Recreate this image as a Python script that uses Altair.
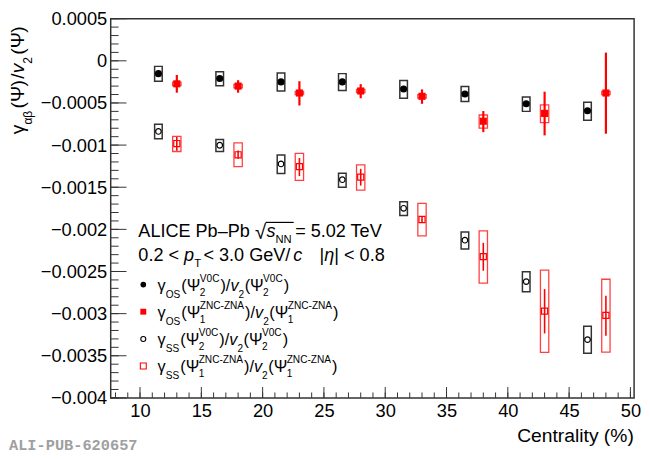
import altair as alt
import pandas as pd
import numpy as np

# ---------------- data ----------------
x_v0c = [11.5, 16.5, 21.5, 26.5, 31.5, 36.5, 41.5, 46.5]
x_zdc = [13, 18, 23, 28, 33, 38, 43, 48]

os_v0c = [-0.000152, -0.00021, -0.00025, -0.00025, -0.000335, -0.000394, -0.00051, -0.000592]
os_v0c_sys_lo = [-0.000242, -0.000296, -0.000358, -0.000351, -0.000444, -0.000483, -0.0006, -0.000705]
os_v0c_sys_hi = [-0.000066, -0.000129, -0.000144, -0.000152, -0.000234, -0.000304, -0.000429, -0.000491]

os_zdc = [-0.000273, -0.0003, -0.000382, -0.000358, -0.000421, -0.000717, -0.000624, -0.000382]
os_zdc_err_lo = [-0.000378, -0.000378, -0.00053, -0.000444, -0.00051, -0.000846, -0.000885, -0.000865]
os_zdc_err_hi = [-0.000168, -0.00023, -0.000242, -0.000277, -0.000339, -0.000596, -0.000366, 0.0000974]
os_zdc_sys_lo = [-0.000293, -0.00032, -0.000402, -0.000378, -0.000441, -0.000799, -0.000733, -0.000402]
os_zdc_sys_hi = [-0.000253, -0.00028, -0.000362, -0.000338, -0.000401, -0.000643, -0.000522, -0.000362]

ss_v0c = [-0.000838, -0.001002, -0.001224, -0.001411, -0.00175, -0.002129, -0.00262, -0.003309]
ss_v0c_sys_lo = [-0.000924, -0.001076, -0.001337, -0.0015, -0.001836, -0.002234, -0.00274, -0.00347]
ss_v0c_sys_hi = [-0.000752, -0.000935, -0.001118, -0.001333, -0.001672, -0.002031, -0.002503, -0.00315]

ss_zdc = [-0.000982, -0.001115, -0.001255, -0.00138, -0.001883, -0.002323, -0.00297, -0.003021]
ss_zdc_err_lo = [-0.001068, -0.001161, -0.001368, -0.001481, -0.00192, -0.002491, -0.003235, -0.003263]
ss_zdc_err_hi = [-0.000904, -0.001064, -0.001153, -0.001282, -0.001846, -0.00216, -0.002709, -0.002787]
ss_zdc_sys_lo = [-0.001076, -0.001255, -0.001419, -0.001535, -0.002078, -0.002639, -0.003461, -0.003457]
ss_zdc_sys_hi = [-0.000896, -0.000974, -0.001099, -0.001235, -0.001692, -0.002019, -0.002483, -0.002592]

x_major = [10, 15, 20, 25, 30, 35, 40, 45, 50]
y_major = [0.0005, 0, -0.0005, -0.001, -0.0015, -0.002, -0.0025, -0.003, -0.0035, -0.004]

# ---------------- layout ----------------
W, H = 530, 384
PL, PT = 104, 8
X0, X1 = 7.608, 50.30
Y0, Y1 = -0.004, 0.0005
OX, OY = PL + 8, PT + 8
FONT = "Liberation Sans"


def dx(px):
    return X0 + (px - OX) * (X1 - X0) / W


def dy(py):
    return Y1 - (py - OY) * (Y1 - Y0) / H


sx = alt.Scale(domain=[X0, X1], nice=False, zero=False)
sy = alt.Scale(domain=[Y0, Y1], nice=False, zero=False)
ax_x = alt.Axis(values=x_major, title=None, ticks=False, tickSize=0, domain=False, grid=False,
                labelFont=FONT, labelFontSize=18.5, labelColor="black", labelPadding=4, format="d")
ax_y = alt.Axis(values=y_major, title=None, ticks=False, tickSize=0, domain=False, grid=False,
                labelFont=FONT, labelFontSize=18.5, labelColor="black", labelPadding=4, format=".4~f")


def X(f):
    return alt.X(f, type="quantitative", scale=sx, axis=ax_x)


def Y(f):
    return alt.Y(f, type="quantitative", scale=sy, axis=ax_y)


# ---------------- rich text helper ----------------
CW = {' ': 0.278, '(': 0.333, ')': 0.333, '/': 0.278, '-': 0.333, '.': 0.278, '<': 0.584, '=': 0.584,
      '|': 0.26, '–': 0.556, '√': 0.549, '%': 0.889,
      'A': 0.667, 'B': 0.667, 'C': 0.722, 'E': 0.667, 'G': 0.778, 'I': 0.278, 'L': 0.556, 'N': 0.722,
      'O': 0.778, 'P': 0.667, 'S': 0.667, 'T': 0.611, 'V': 0.667, 'Z': 0.611,
      'b': 0.556, 'c': 0.5, 'e': 0.556, 'p': 0.556, 's': 0.5, 'v': 0.5,
      'γ': 0.5, 'Ψ': 0.8, 'α': 0.578, 'β': 0.569, 'η': 0.556}


def tw(s, size):
    return sum(CW.get(c, 0.556) for c in s) * size


rows = []


def place(txt, px, py, size, it, rot):
    rows.append(dict(x=dx(px), y=dy(py), t=txt, s=size, it=it, rot=rot))


def rich(segs, x, y, size, rot=False, small=0.62, subdy=0.42, supdy=-0.58, pairdy=0.3):
    pen = 0.0
    for seg in segs:
        k = seg[0]
        if k == 'gap':
            pen += seg[1]
            continue
        if k == 'ss':
            sub, sup = seg[1], seg[2]
            fs = size * small
            for txt, off in ((sub, pairdy * size), (sup, supdy * size)):
                if rot:
                    place(txt, x + off, y - pen, fs, False, True)
                else:
                    place(txt, x + pen, y + off, fs, False, False)
            pen += max(tw(sub, fs), tw(sup, fs)) + 1
            continue
        txt = seg[1]
        it = len(seg) > 2 and seg[2]
        if k == 'n':
            fs, off = size, 0.0
        elif k == 'sub':
            fs, off = size * small, subdy * size
        elif k == 'big':
            fs, off = size * 1.12, 0.1 * size
        else:  # sup
            fs, off = size * small, supdy * size
        if rot:
            place(txt, x + off, y - pen, fs, it, True)
        else:
            place(txt, x + pen, y + off, fs, it, False)
        pen += tw(txt, fs)
    return pen


# y-axis title (rotated)
rich([('n', 'γ'), ('sub', 'αβ'), ('gap', 2.5), ('n', '('), ('n', 'Ψ'), ('n', ')'), ('gap', 1.5), ('n', '/'),
      ('n', 'v', True), ('sub', '2'), ('gap', 2.5), ('n', '('), ('n', 'Ψ'), ('n', ')')],
     24.5, 133, 19.5, rot=True, subdy=0.38)

# header lines
hx = 140
HF = 18.3
p1 = rich([('n', 'ALICE Pb–Pb '), ('big', '√')], hx, 237.3, HF)
p2 = rich([('gap', 0.5), ('n', 's', True), ('sub', 'NN'), ('gap', 3.5), ('n', ' = 5.02 TeV')],
          hx + p1, 237.3, HF, subdy=0.3)
bar_x0, bar_x1 = hx + p1 - 0.5, hx + p1 + 0.5 + tw('s', HF) + tw('NN', HF * 0.62) + 2
rich([('n', '0.2 < '), ('n', 'p', True), ('sub', 'T'), ('gap', 2.5), ('n', ' < 3.0 GeV/'), ('gap', -2.2),
      ('n', 'c', True)], hx, 261.5, HF, subdy=0.32)
rich([('n', '|'), ('n', 'η', True), ('n', '| < 0.8')], 323.5, 261.5, HF)

# legend entries
leg_y = [285.3, 312.7, 340.3, 367.7]
leg_x_marker = 145
leg_x_text = 159.5
LF = 16.5
sups = [('2', 'V0C'), ('1', 'ZNC-ZNA'), ('2', 'V0C'), ('1', 'ZNC-ZNA')]
subs = ['OS', 'OS', 'SS', 'SS']
for ly, (a, b), sb in zip(leg_y, sups, subs):
    rich([('n', 'γ'), ('sub', sb), ('gap', 1), ('n', '('), ('n', 'Ψ'), ('ss', a, b), ('n', ')'), ('n', '/'),
          ('n', 'v', True), ('sub', '2'), ('gap', 0.5), ('n', '('), ('n', 'Ψ'), ('ss', a, b), ('n', ')')],
         leg_x_text, ly + 6.5, LF)

txt = pd.DataFrame(rows)


def text_layer(d, italic, angle=0):
    return alt.Chart(d).mark_text(align='left', baseline='alphabetic', font=FONT,
                                  fontStyle='italic' if italic else 'normal', angle=angle,
                                  color='black').encode(
        x=X('x'), y=Y('y'), text='t:N', size=alt.Size('s:Q', scale=None, legend=None))


layers = []

# ---------------- axis ticks (inside) ----------------
xminor = pd.DataFrame({'x': np.arange(8, 51, 1.0)})
xmaj = pd.DataFrame({'x': x_major})
yminor = pd.DataFrame({'y': np.round(np.arange(-0.004, 0.00051, 0.0001), 6)})
ymaj = pd.DataFrame({'y': y_major})
TC = '#333333'
layers.append(alt.Chart(xminor).mark_rule(color=TC, strokeWidth=1).encode(
    x=X('x'), y=alt.value(H), y2=alt.value(H - 5.5)))
layers.append(alt.Chart(xmaj).mark_rule(color=TC, strokeWidth=1).encode(
    x=X('x'), y=alt.value(H), y2=alt.value(H - 11)))
layers.append(alt.Chart(yminor).mark_rule(color=TC, strokeWidth=1).encode(
    y=Y('y'), x=alt.value(0), x2=alt.value(8)))
layers.append(alt.Chart(ymaj).mark_rule(color=TC, strokeWidth=1).encode(
    y=Y('y'), x=alt.value(0), x2=alt.value(16)))

# ---------------- data frames ----------------
d_osv = pd.DataFrame(dict(x=x_v0c, y=os_v0c, slo=os_v0c_sys_lo, shi=os_v0c_sys_hi))
d_osz = pd.DataFrame(dict(x=x_zdc, y=os_zdc, elo=os_zdc_err_lo, ehi=os_zdc_err_hi,
                          slo=os_zdc_sys_lo, shi=os_zdc_sys_hi))
d_ssv = pd.DataFrame(dict(x=x_v0c, y=ss_v0c, slo=ss_v0c_sys_lo, shi=ss_v0c_sys_hi))
d_ssz = pd.DataFrame(dict(x=x_zdc, y=ss_zdc, elo=ss_zdc_err_lo, ehi=ss_zdc_err_hi,
                          slo=ss_zdc_sys_lo, shi=ss_zdc_sys_hi))


def boxes(d, half, color, width, opacity=1.0):
    return alt.Chart(d).transform_calculate(
        xa=f'datum.x - {half}', xb=f'datum.x + {half}').mark_rect(
        filled=False, stroke=color, strokeWidth=width, strokeOpacity=opacity).encode(
        x=X('xa'), x2='xb:Q', y=Y('slo'), y2='shi:Q')


layers.append(boxes(d_osv, 0.31, '#333333', 1.5))
layers.append(boxes(d_ssv, 0.31, '#333333', 1.5))
layers.append(boxes(d_osz, 0.34, '#ff0000', 1.3, 0.75))
layers.append(boxes(d_ssz, 0.34, '#ff0000', 1.3, 0.75))

layers.append(alt.Chart(d_osz).mark_rule(color='#ff0000', strokeWidth=2.2).encode(
    x=X('x'), y=Y('elo'), y2='ehi:Q'))
layers.append(alt.Chart(d_ssz).mark_rule(color='#ff0000', strokeWidth=1.6).encode(
    x=X('x'), y=Y('elo'), y2='ehi:Q'))

layers.append(alt.Chart(d_osv).mark_circle(size=52, color='black', opacity=1).encode(x=X('x'), y=Y('y')))
layers.append(alt.Chart(d_osz).mark_square(size=52, color='#ff0000', opacity=1).encode(x=X('x'), y=Y('y')))
layers.append(alt.Chart(d_ssv).mark_point(shape='circle', size=32, filled=False, color='black',
                                          strokeWidth=1.2, opacity=1).encode(x=X('x'), y=Y('y')))
layers.append(alt.Chart(d_ssz).mark_point(shape='square', size=38, filled=False, color='#ff0000',
                                          strokeWidth=1.2, opacity=1).encode(x=X('x'), y=Y('y')))

# legend symbols
lm = [pd.DataFrame(dict(x=[dx(leg_x_marker)], y=[dy(v)])) for v in leg_y]
layers.append(alt.Chart(lm[0]).mark_circle(size=32, color='black', opacity=1).encode(x=X('x'), y=Y('y')))
layers.append(alt.Chart(lm[1]).mark_square(size=36, color='#ff0000', opacity=1).encode(x=X('x'), y=Y('y')))
layers.append(alt.Chart(lm[2]).mark_point(shape='circle', size=26, filled=False, color='black',
                                          strokeWidth=1.1, opacity=1).encode(x=X('x'), y=Y('y')))
layers.append(alt.Chart(lm[3]).mark_point(shape='square', size=36, filled=False, color='#ff0000',
                                          strokeWidth=1.1, opacity=1).encode(x=X('x'), y=Y('y')))

# text
layers.append(text_layer(txt[(~txt.it) & (~txt.rot)], False))
layers.append(text_layer(txt[(txt.it) & (~txt.rot)], True))
layers.append(text_layer(txt[(~txt.it) & (txt.rot)], False, 270))
layers.append(text_layer(txt[(txt.it) & (txt.rot)], True, 270))

# sqrt overline
bar = pd.DataFrame(dict(x=[dx(bar_x0)], x2=[dx(bar_x1)], y=[dy(222.3)]))
layers.append(alt.Chart(bar).mark_rule(color='black', strokeWidth=1.2).encode(
    x=X('x'), x2='x2:Q', y=Y('y')))

# axis title
at = pd.DataFrame(dict(x=[dx(641.7)], y=[dy(445)], t=['Centrality (%)']))
layers.append(alt.Chart(at).mark_text(align='right', baseline='alphabetic', font=FONT, fontSize=19.5,
                                      color='black').encode(x=X('x'), y=Y('y'), text='t:N'))

# watermark
wm = pd.DataFrame(dict(x=[dx(9)], y=[dy(453)], t=['ALI-PUB-620657']))
layers.append(alt.Chart(wm).mark_text(align='left', baseline='alphabetic', font='Liberation Mono',
                                      fontWeight='bold', fontSize=15.5, color='#a0a0a0').encode(
    x=X('x'), y=Y('y'), text='t:N'))

chart = alt.layer(*layers).properties(
    width=W, height=H,
    padding={"left": PL, "top": PT, "right": 8, "bottom": 55},
    autosize=alt.AutoSizeParams(type="none"),
).configure_view(stroke='#333333', strokeWidth=1.5)

chart.save("out.html", embed_options={"renderer": "svg", "actions": False})
